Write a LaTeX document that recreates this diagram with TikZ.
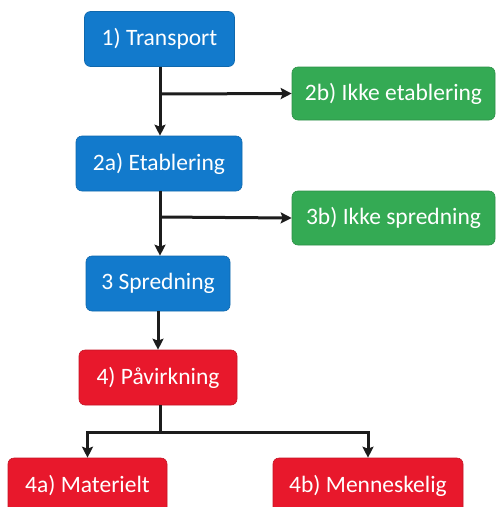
\documentclass[tikz,border=0pt]{standalone}
\usepackage{fontspec}
\setmainfont{Carlito}
\usetikzlibrary{arrows.meta}
\definecolor{boxblue}{RGB}{18,122,204}
\definecolor{boxgreen}{RGB}{52,170,84}
\definecolor{boxred}{RGB}{232,24,44}
\definecolor{linedark}{RGB}{28,28,28}
\tikzset{
  box/.style={rounded corners=6pt, inner sep=0pt, text=white,
    font=\fontsize{23.5}{26}\selectfont, minimum height=55pt},
  bluebox/.style={box, fill=boxblue, draw=boxblue!85!black, line width=0.6pt},
  greenbox/.style={box, fill=boxgreen, draw=boxgreen!85!black, line width=0.6pt},
  redbox/.style={box, fill=boxred, draw=boxred!85!black, line width=0.6pt},
  conn/.style={draw=linedark, line width=3pt},
  arr/.style={conn, -{Stealth[length=11pt,width=11pt,inset=2pt]}}
}
\begin{document}
\begin{tikzpicture}[x=1pt,y=-1pt]
\useasboundingbox (0,0) rectangle (496,507);
\node[bluebox, minimum width=150pt] (t1) at (159.5,39) {1) Transport};
\node[greenbox, minimum width=203pt, minimum height=53pt] (t2b) at (393.5,93.5) {2b) Ikke etablering};
\node[bluebox, minimum width=166pt] (t2a) at (159,163.5) {2a) Etablering};
\node[greenbox, minimum width=203pt, minimum height=54pt] (t3b) at (393.5,218) {3b) Ikke spredning};
\node[bluebox, minimum width=144pt] (t3) at (158,283.5) {3 Spredning};
\node[redbox, minimum width=158pt] (t4) at (158,377.5) {4) Påvirkning};
\node[redbox, minimum width=159pt] (t4a) at (87.5,485.5) {4a) Materielt};
\node[redbox, minimum width=190pt] (t4b) at (368,485.5) {4b) Menneskelig};

\coordinate (j1) at (160,94);
\coordinate (j2) at (160,217);
\coordinate (j3) at (160,432);

\draw[arr] (t1.south -| j1) -- (t2a.north -| j1);
\draw[arr] (j1) -- (t2b.west);
\draw[arr] (t2a.south -| j2) -- (t3.north -| j2);
\draw[arr] (j2) -- (t3b.west);
\draw[arr] (t3) -- (t4);
\draw[conn] (t4.south -| j3) -- (j3);
\draw[arr] (j3) -| (t4a.north);
\draw[arr] (j3) -| (t4b.north);
\end{tikzpicture}
\end{document}
